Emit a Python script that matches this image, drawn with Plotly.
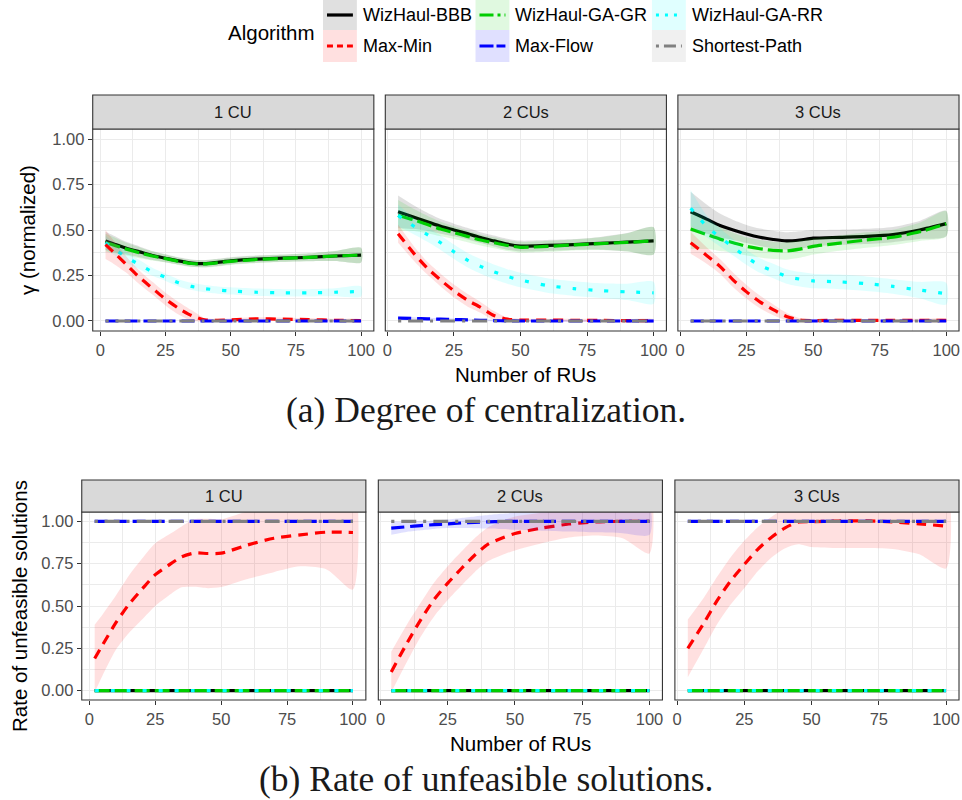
import plotly.graph_objects as go

W, H = 962, 800

FACETS = ["1 CU", "2 CUs", "3 CUs"]
ALGOS = ["WizHaul-BBB", "WizHaul-GA-GR", "WizHaul-GA-RR", "Max-Min", "Max-Flow", "Shortest-Path"]
COLORS = {
    "WizHaul-BBB": (0, 0, 0),
    "WizHaul-GA-GR": (0, 205, 0),
    "WizHaul-GA-RR": (0, 255, 255),
    "Max-Min": (255, 0, 0),
    "Max-Flow": (0, 0, 255),
    "Shortest-Path": (128, 128, 128),
}
DASH = {
    "WizHaul-BBB": "solid",
    "WizHaul-GA-GR": "15px,5px",
    "WizHaul-GA-RR": "4px,12px",
    "Max-Min": "10px,7px",
    "Max-Flow": "13px,6px",
    "Shortest-Path": "3px,7px,15px,7px",
}
KEY_DASH = {
    "WizHaul-BBB": "solid",
    "WizHaul-GA-GR": "14px,4px,3px,4px",
    "WizHaul-GA-RR": "3px,6px",
    "Max-Min": "6px,4px",
    "Max-Flow": "14px,3px",
    "Shortest-Path": "3px,5px,12px,5px",
}

# number of RUs at which the smoothed curves are evaluated
RUS_1CU = [2, 5, 10, 15, 20, 25, 30, 35, 40, 45, 50, 60, 70, 80, 90, 100]
RUS_MULTI = [4, 10, 15, 20, 25, 30, 35, 40, 45, 50, 60, 70, 80, 90, 100]

# ---- degree of centralization (gamma, normalized): smoothed mean and standard error
GAMMA_1CU_MEAN = {
    "WizHaul-BBB": [0.44, 0.425, 0.40, 0.38, 0.36, 0.345, 0.33, 0.318, 0.315, 0.322, 0.33, 0.34, 0.345, 0.35, 0.357, 0.362],
    "WizHaul-GA-GR": [0.43, 0.418, 0.395, 0.375, 0.357, 0.343, 0.328, 0.316, 0.314, 0.32, 0.328, 0.338, 0.344, 0.35, 0.357, 0.362],
    "WizHaul-GA-RR": [0.43, 0.40, 0.35, 0.31, 0.27, 0.24, 0.21, 0.19, 0.178, 0.17, 0.165, 0.158, 0.155, 0.155, 0.158, 0.162],
    "Max-Min": [0.42, 0.38, 0.31, 0.24, 0.18, 0.12, 0.07, 0.03, 0.006, 0.004, 0.006, 0.012, 0.01, 0.008, 0.004, 0.002],
    "Max-Flow": [0, 0, 0, 0, 0, 0, 0, 0, 0, 0, 0, 0, 0, 0, 0, 0],
    "Shortest-Path": [0, 0, 0, 0, 0, 0, 0, 0, 0, 0, 0, 0, 0, 0, 0, 0],
}
GAMMA_1CU_SE = {
    "WizHaul-BBB": [0.05, 0.045, 0.035, 0.03, 0.025, 0.022, 0.02, 0.02, 0.02, 0.02, 0.02, 0.02, 0.02, 0.022, 0.028, 0.04],
    "WizHaul-GA-GR": [0.05, 0.044, 0.035, 0.03, 0.025, 0.022, 0.02, 0.02, 0.02, 0.02, 0.02, 0.02, 0.02, 0.022, 0.028, 0.04],
    "WizHaul-GA-RR": [0.04, 0.035, 0.03, 0.025, 0.022, 0.02, 0.02, 0.02, 0.02, 0.02, 0.02, 0.02, 0.02, 0.02, 0.022, 0.028],
    "Max-Min": [0.08, 0.065, 0.045, 0.038, 0.035, 0.035, 0.035, 0.03, 0.01, 0.008, 0.008, 0.008, 0.008, 0.008, 0.008, 0.008],
    "Max-Flow": [0, 0, 0, 0, 0, 0, 0, 0, 0, 0, 0, 0, 0, 0, 0, 0],
    "Shortest-Path": [0, 0, 0, 0, 0, 0, 0, 0, 0, 0, 0, 0, 0, 0, 0, 0],
}
GAMMA_2CU_MEAN = {
    "WizHaul-BBB": [0.60, 0.57, 0.545, 0.52, 0.50, 0.48, 0.458, 0.44, 0.422, 0.412, 0.415, 0.42, 0.427, 0.433, 0.44],
    "WizHaul-GA-GR": [0.58, 0.555, 0.53, 0.505, 0.485, 0.465, 0.445, 0.43, 0.415, 0.405, 0.41, 0.418, 0.425, 0.432, 0.44],
    "WizHaul-GA-RR": [0.58, 0.52, 0.475, 0.43, 0.38, 0.335, 0.30, 0.27, 0.245, 0.225, 0.195, 0.178, 0.167, 0.16, 0.155],
    "Max-Min": [0.48, 0.37, 0.29, 0.225, 0.165, 0.115, 0.075, 0.03, 0.01, 0.005, 0.005, 0.004, 0.003, 0.002, 0.002],
    "Max-Flow": [0.016, 0.014, 0.012, 0.01, 0.008, 0.006, 0.004, 0.002, 0.001, 0, 0, 0, 0, 0, 0],
    "Shortest-Path": [0, 0, 0, 0, 0, 0, 0, 0, 0, 0, 0, 0, 0, 0, 0],
}
GAMMA_2CU_SE = {
    "WizHaul-BBB": [0.09, 0.065, 0.05, 0.04, 0.035, 0.032, 0.03, 0.03, 0.03, 0.03, 0.03, 0.03, 0.035, 0.05, 0.075],
    "WizHaul-GA-GR": [0.085, 0.06, 0.048, 0.04, 0.035, 0.032, 0.03, 0.03, 0.03, 0.03, 0.03, 0.03, 0.035, 0.05, 0.075],
    "WizHaul-GA-RR": [0.06, 0.045, 0.04, 0.04, 0.04, 0.04, 0.04, 0.04, 0.04, 0.04, 0.04, 0.04, 0.04, 0.045, 0.06],
    "Max-Min": [0.05, 0.04, 0.035, 0.035, 0.035, 0.035, 0.03, 0.025, 0.01, 0.008, 0.008, 0.008, 0.008, 0.008, 0.008],
    "Max-Flow": [0.008, 0.007, 0.006, 0.006, 0.006, 0.006, 0.006, 0.006, 0.006, 0.006, 0.006, 0.006, 0.006, 0.006, 0.008],
    "Shortest-Path": [0, 0, 0, 0, 0, 0, 0, 0, 0, 0, 0, 0, 0, 0, 0],
}
GAMMA_3CU_MEAN = {
    "WizHaul-BBB": [0.60, 0.56, 0.525, 0.50, 0.478, 0.46, 0.448, 0.44, 0.445, 0.455, 0.46, 0.465, 0.475, 0.50, 0.535],
    "WizHaul-GA-GR": [0.505, 0.475, 0.45, 0.43, 0.41, 0.397, 0.388, 0.385, 0.395, 0.41, 0.428, 0.445, 0.46, 0.49, 0.534],
    "WizHaul-GA-RR": [0.62, 0.52, 0.46, 0.405, 0.35, 0.305, 0.275, 0.245, 0.23, 0.22, 0.215, 0.205, 0.19, 0.17, 0.15],
    "Max-Min": [0.43, 0.36, 0.30, 0.225, 0.16, 0.105, 0.062, 0.025, 0.005, 0.002, 0.004, 0.003, 0.003, 0.004, 0.003],
    "Max-Flow": [0, 0, 0, 0, 0, 0, 0, 0, 0, 0, 0, 0, 0, 0, 0],
    "Shortest-Path": [0, 0, 0, 0, 0, 0, 0, 0, 0, 0, 0, 0, 0, 0, 0],
}
GAMMA_3CU_SE = {
    "WizHaul-BBB": [0.11, 0.08, 0.065, 0.055, 0.05, 0.048, 0.048, 0.048, 0.048, 0.045, 0.042, 0.042, 0.042, 0.05, 0.07],
    "WizHaul-GA-GR": [0.11, 0.08, 0.065, 0.055, 0.05, 0.048, 0.048, 0.048, 0.048, 0.045, 0.042, 0.042, 0.042, 0.05, 0.07],
    "WizHaul-GA-RR": [0.1, 0.06, 0.05, 0.045, 0.042, 0.04, 0.04, 0.04, 0.04, 0.04, 0.04, 0.04, 0.04, 0.045, 0.06],
    "Max-Min": [0.06, 0.045, 0.04, 0.04, 0.038, 0.035, 0.03, 0.02, 0.01, 0.008, 0.008, 0.008, 0.008, 0.008, 0.008],
    "Max-Flow": [0, 0, 0, 0, 0, 0, 0, 0, 0, 0, 0, 0, 0, 0, 0],
    "Shortest-Path": [0, 0, 0, 0, 0, 0, 0, 0, 0, 0, 0, 0, 0, 0, 0],
}

# ---- rate of unfeasible solutions: smoothed mean and standard error
UNFEAS_1CU_MEAN = {
    "WizHaul-BBB": [0, 0, 0, 0, 0, 0, 0, 0, 0, 0, 0, 0, 0, 0, 0, 0],
    "WizHaul-GA-GR": [0, 0, 0, 0, 0, 0, 0, 0, 0, 0, 0, 0, 0, 0, 0, 0],
    "WizHaul-GA-RR": [0, 0, 0, 0, 0, 0, 0, 0, 0, 0, 0, 0, 0, 0, 0, 0],
    "Max-Min": [0.19, 0.27, 0.40, 0.51, 0.60, 0.685, 0.74, 0.79, 0.813, 0.81, 0.812, 0.86, 0.90, 0.92, 0.936, 0.934],
    "Max-Flow": [1, 1, 1, 1, 1, 1, 1, 1, 1, 1, 1, 1, 1, 1, 1, 1],
    "Shortest-Path": [1, 1, 1, 1, 1, 1, 1, 1, 1, 1, 1, 1, 1, 1, 1, 1],
}
UNFEAS_1CU_SE = {
    "WizHaul-BBB": [0, 0, 0, 0, 0, 0, 0, 0, 0, 0, 0, 0, 0, 0, 0, 0],
    "WizHaul-GA-GR": [0, 0, 0, 0, 0, 0, 0, 0, 0, 0, 0, 0, 0, 0, 0, 0],
    "WizHaul-GA-RR": [0, 0, 0, 0, 0, 0, 0, 0, 0, 0, 0, 0, 0, 0, 0, 0],
    "Max-Min": [0.2, 0.18, 0.16, 0.17, 0.18, 0.185, 0.18, 0.18, 0.2, 0.205, 0.2, 0.2, 0.2, 0.186, 0.22, 0.337],
    "Max-Flow": [0, 0, 0, 0, 0, 0, 0, 0, 0, 0, 0, 0, 0, 0, 0, 0],
    "Shortest-Path": [0, 0, 0, 0, 0, 0, 0, 0, 0, 0, 0, 0, 0, 0, 0, 0],
}
UNFEAS_2CU_MEAN = {
    "WizHaul-BBB": [0, 0, 0, 0, 0, 0, 0, 0, 0, 0, 0, 0, 0, 0, 0],
    "WizHaul-GA-GR": [0, 0, 0, 0, 0, 0, 0, 0, 0, 0, 0, 0, 0, 0, 0],
    "WizHaul-GA-RR": [0, 0, 0, 0, 0, 0, 0, 0, 0, 0, 0, 0, 0, 0, 0],
    "Max-Min": [0.11, 0.285, 0.42, 0.54, 0.635, 0.72, 0.80, 0.865, 0.90, 0.928, 0.96, 0.984, 0.996, 1.0, 1.0],
    "Max-Flow": [0.96, 0.968, 0.975, 0.98, 0.985, 0.99, 0.994, 0.997, 0.999, 1, 1, 1, 1, 1, 1],
    "Shortest-Path": [1, 1, 1, 1, 1, 1, 1, 1, 1, 1, 1, 1, 1, 1, 1],
}
UNFEAS_2CU_SE = {
    "WizHaul-BBB": [0, 0, 0, 0, 0, 0, 0, 0, 0, 0, 0, 0, 0, 0, 0],
    "WizHaul-GA-GR": [0, 0, 0, 0, 0, 0, 0, 0, 0, 0, 0, 0, 0, 0, 0],
    "WizHaul-GA-RR": [0, 0, 0, 0, 0, 0, 0, 0, 0, 0, 0, 0, 0, 0, 0],
    "Max-Min": [0.12, 0.11, 0.1, 0.1, 0.1, 0.1, 0.1, 0.1, 0.1, 0.1, 0.09, 0.08, 0.08, 0.1, 0.19],
    "Max-Flow": [0.04, 0.03, 0.028, 0.025, 0.025, 0.03, 0.035, 0.04, 0.045, 0.05, 0.055, 0.06, 0.065, 0.07, 0.08],
    "Shortest-Path": [0, 0, 0, 0, 0, 0, 0, 0, 0, 0, 0, 0, 0, 0, 0],
}
UNFEAS_3CU_MEAN = {
    "WizHaul-BBB": [0, 0, 0, 0, 0, 0, 0, 0, 0, 0, 0, 0, 0, 0, 0],
    "WizHaul-GA-GR": [0, 0, 0, 0, 0, 0, 0, 0, 0, 0, 0, 0, 0, 0, 0],
    "WizHaul-GA-RR": [0, 0, 0, 0, 0, 0, 0, 0, 0, 0, 0, 0, 0, 0, 0],
    "Max-Min": [0.25, 0.40, 0.535, 0.65, 0.745, 0.835, 0.905, 0.96, 0.995, 0.998, 1.002, 1.003, 0.997, 0.985, 0.972],
    "Max-Flow": [1, 1, 1, 1, 1, 1, 1, 1, 1, 1, 1, 1, 1, 1, 1],
    "Shortest-Path": [1, 1, 1, 1, 1, 1, 1, 1, 1, 1, 1, 1, 1, 1, 1],
}
UNFEAS_3CU_SE = {
    "WizHaul-BBB": [0, 0, 0, 0, 0, 0, 0, 0, 0, 0, 0, 0, 0, 0, 0],
    "WizHaul-GA-GR": [0, 0, 0, 0, 0, 0, 0, 0, 0, 0, 0, 0, 0, 0, 0],
    "WizHaul-GA-RR": [0, 0, 0, 0, 0, 0, 0, 0, 0, 0, 0, 0, 0, 0, 0],
    "Max-Min": [0.17, 0.15, 0.14, 0.14, 0.14, 0.13, 0.12, 0.12, 0.13, 0.15, 0.16, 0.16, 0.16, 0.18, 0.25],
    "Max-Flow": [0, 0, 0, 0, 0, 0, 0, 0, 0, 0, 0, 0, 0, 0, 0],
    "Shortest-Path": [0, 0, 0, 0, 0, 0, 0, 0, 0, 0, 0, 0, 0, 0, 0],
}

X_TICKS = [0, 25, 50, 75, 100]
Y_TICKS = [0, 0.25, 0.5, 0.75, 1.0]
Y_TICK_TEXT = ["0.00", "0.25", "0.50", "0.75", "1.00"]

SANS = "Liberation Sans, Arial, sans-serif"
SERIF = "Liberation Serif, Times New Roman, serif"
LINE_W = 3.2


def px_x(x):
    return x / W


def px_y(y):
    return 1 - y / H


def rgba(rgb, a):
    return "rgba(%d,%d,%d,%.3f)" % (rgb[0], rgb[1], rgb[2], a)


# panel geometry (pixels): [left, right] for each facet, [top, bottom] for the panels
CHARTS = [
    {
        "facets": [(91, 373), (384.5, 666.5), (678, 960)],
        "panel_y": (129, 331), "strip_y": (95, 129),
        "means": [GAMMA_1CU_MEAN, GAMMA_2CU_MEAN, GAMMA_3CU_MEAN],
        "ses": [GAMMA_1CU_SE, GAMMA_2CU_SE, GAMMA_3CU_SE],
        "ytitle": "\u03b3 (normalized)", "ytitle_x": 26,
        "xtitle_y": 374, "caption": "(a) Degree of centralization.", "caption_y": 410,
    },
    {
        "facets": [(80, 365), (377.5, 662.5), (675, 960)],
        "panel_y": (512, 700), "strip_y": (480, 512),
        "means": [UNFEAS_1CU_MEAN, UNFEAS_2CU_MEAN, UNFEAS_3CU_MEAN],
        "ses": [UNFEAS_1CU_SE, UNFEAS_2CU_SE, UNFEAS_3CU_SE],
        "ytitle": "Rate of unfeasible solutions", "ytitle_x": 17,
        "xtitle_y": 743, "caption": "(b) Rate of unfeasible solutions.", "caption_y": 779,
    },
]
X_RANGES = [[-2.9, 104.9], [-0.8, 104.8], [-0.8, 104.8]]
Y_RANGE = [-0.055, 1.055]

fig = go.Figure()
layout = {}
shapes = []
annotations = []

ax = 0
for chart in CHARTS:
    py0, py1 = chart["panel_y"]
    sy0, sy1 = chart["strip_y"]
    for fi, facet in enumerate(FACETS):
        ax += 1
        xname = "xaxis" if ax == 1 else "xaxis%d" % ax
        yname = "yaxis" if ax == 1 else "yaxis%d" % ax
        xref = "x" if ax == 1 else "x%d" % ax
        yref = "y" if ax == 1 else "y%d" % ax
        fx0, fx1 = chart["facets"][fi]
        rus = RUS_1CU if fi == 0 else RUS_MULTI

        layout[xname] = dict(
            domain=[px_x(fx0), px_x(fx1)], range=X_RANGES[fi], anchor=yref,
            tickmode="array", tickvals=X_TICKS, ticktext=[str(v) for v in X_TICKS],
            ticks="outside", ticklen=4, tickwidth=1.1, tickcolor="#333333",
            tickfont=dict(family=SANS, size=16.5, color="#4d4d4d"),
            showgrid=True, gridcolor="#ebebeb", gridwidth=1.1,
            minor=dict(tickvals=[12.5, 37.5, 62.5, 87.5], showgrid=True,
                       gridcolor="#ebebeb", gridwidth=0.55, ticks=""),
            zeroline=False, showline=False, fixedrange=True,
        )
        layout[yname] = dict(
            domain=[px_y(py1), px_y(py0)], range=Y_RANGE, anchor=xref,
            tickmode="array", tickvals=Y_TICKS, ticktext=Y_TICK_TEXT,
            ticks="outside" if fi == 0 else "", ticklen=4, tickwidth=1.1, tickcolor="#333333",
            showticklabels=(fi == 0),
            tickfont=dict(family=SANS, size=16.5, color="#4d4d4d"),
            showgrid=True, gridcolor="#ebebeb", gridwidth=1.1,
            minor=dict(tickvals=[0.125, 0.375, 0.625, 0.875], showgrid=True,
                       gridcolor="#ebebeb", gridwidth=0.55, ticks=""),
            zeroline=False, showline=False, fixedrange=True,
        )

        means = chart["means"][fi]
        ses = chart["ses"][fi]
        for algo in ALGOS:
            rgb = COLORS[algo]
            m = means[algo]
            s = ses[algo]
            upper = [a + b for a, b in zip(m, s)]
            lower = [a - b for a, b in zip(m, s)]
            fig.add_trace(go.Scatter(
                x=rus + rus[::-1], y=upper + lower[::-1],
                xaxis=xref, yaxis=yref, mode="lines", fill="toself",
                fillcolor=rgba(rgb, 0.12), line=dict(width=0, shape="spline", smoothing=0.7),
                hoverinfo="skip", showlegend=False,
            ))
            fig.add_trace(go.Scatter(
                x=rus, y=m, xaxis=xref, yaxis=yref, mode="lines", name=algo,
                line=dict(color=rgba(rgb, 1), width=LINE_W, dash=DASH[algo],
                          shape="spline", smoothing=0.7),
                showlegend=False,
            ))

        # panel border
        shapes.append(dict(type="rect", xref="paper", yref="paper", layer="above",
                           x0=px_x(fx0), x1=px_x(fx1), y0=px_y(py1), y1=px_y(py0),
                           line=dict(color="#333333", width=1.1), fillcolor="rgba(0,0,0,0)"))
        # facet strip
        shapes.append(dict(type="rect", xref="paper", yref="paper", layer="above",
                           x0=px_x(fx0), x1=px_x(fx1), y0=px_y(sy1), y1=px_y(sy0),
                           line=dict(color="#333333", width=1.1), fillcolor="#d9d9d9"))
        annotations.append(dict(text=facet, xref="paper", yref="paper",
                                x=px_x((fx0 + fx1) / 2), y=px_y((sy0 + sy1) / 2),
                                xanchor="center", yanchor="middle", showarrow=False,
                                font=dict(family=SANS, size=16.5, color="#1a1a1a")))

    left = chart["facets"][0][0]
    right = chart["facets"][2][1]
    annotations.append(dict(text="Number of RUs", xref="paper", yref="paper",
                            x=px_x((left + right) / 2), y=px_y(chart["xtitle_y"]),
                            xanchor="center", yanchor="middle", showarrow=False,
                            font=dict(family=SANS, size=20.5, color="#000000")))
    annotations.append(dict(text=chart["ytitle"], xref="paper", yref="paper", textangle=-90,
                            x=px_x(chart["ytitle_x"]), y=px_y((py0 + py1) / 2),
                            xanchor="center", yanchor="middle", showarrow=False,
                            font=dict(family=SANS, size=20.5, color="#000000")))
    annotations.append(dict(text=chart["caption"], xref="paper", yref="paper",
                            x=px_x(486), y=px_y(chart["caption_y"]),
                            xanchor="center", yanchor="middle", showarrow=False,
                            font=dict(family=SERIF, size=35.5, color="#1a1a1a")))

# legend: three columns, two rows, filled key boxes
KEY_COLS = [322, 475, 652]
KEY_W = 34
KEY_ROWS = [(0, 30), (30, 62)]
for i, algo in enumerate(ALGOS):
    r, c = divmod(i, 3)
    kx0 = KEY_COLS[c]
    ky0, ky1 = KEY_ROWS[r]
    rgb = COLORS[algo]
    shapes.append(dict(type="rect", xref="paper", yref="paper", layer="above",
                       x0=px_x(kx0), x1=px_x(kx0 + KEY_W), y0=px_y(ky1), y1=px_y(ky0),
                       line=dict(width=0), fillcolor=rgba(rgb, 0.12)))
    yc = (ky0 + ky1) / 2
    shapes.append(dict(type="line", xref="paper", yref="paper", layer="above",
                       x0=px_x(kx0 + 4), x1=px_x(kx0 + KEY_W - 4), y0=px_y(yc), y1=px_y(yc),
                       line=dict(color=rgba(rgb, 1), width=LINE_W, dash=KEY_DASH[algo])))
    annotations.append(dict(text=algo, xref="paper", yref="paper",
                            x=px_x(kx0 + KEY_W + 4), y=px_y(yc),
                            xanchor="left", yanchor="middle", showarrow=False,
                            font=dict(family=SANS, size=18, color="#000000")))
annotations.append(dict(text="Algorithm", xref="paper", yref="paper",
                        x=px_x(316), y=px_y(32), xanchor="right", yanchor="middle",
                        showarrow=False, font=dict(family=SANS, size=20.5, color="#000000")))

fig.update_layout(
    width=W, height=H, margin=dict(l=0, r=0, t=0, b=0),
    paper_bgcolor="white", plot_bgcolor="white",
    showlegend=False, shapes=shapes, annotations=annotations,
    **layout,
)

fig.write_html("out.html")
